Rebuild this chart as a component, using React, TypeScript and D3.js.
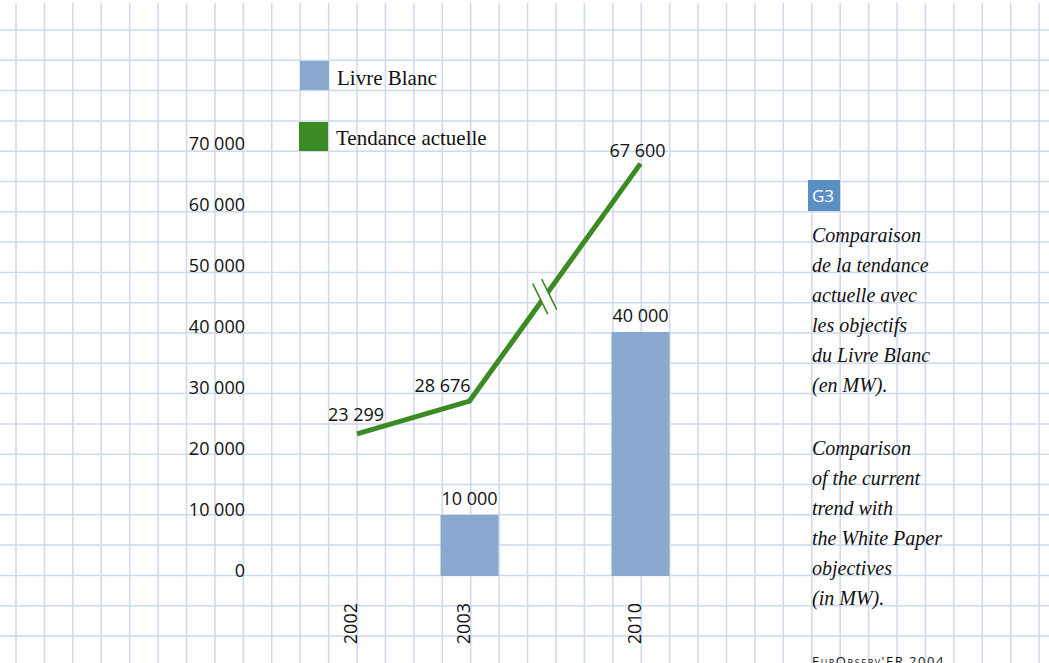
import React from "react";
import * as d3 from "d3";

const W = 1049;
const H = 663;

// data
const years = ["2002", "2003", "2010"];
const yearSlots = [0, 1, 2.52]; // 2010 sits after the axis break
const livreBlanc = [null, 10000, 40000];
const tendance = [23299, 28676, 67600];
const yTicks = [0, 10000, 20000, 30000, 40000, 50000, 60000, 70000];
const captionFr = ["Comparaison", "de la tendance", "actuelle avec", "les objectifs", "du Livre Blanc", "(en MW)."];
const captionEn = ["Comparison", "of the current", "trend with", "the White Paper", "objectives", "(in MW)."];

const BLUE = "#8aa9cf";
const GREEN = "#3b8a22";
const GRID = "#cdd9ec";
const SANS = "'Open Sans', sans-serif";
const SERIF = "'Liberation Serif', serif";

const fmt = (v: number) => d3.format(",")(v).replace(/,/g, " ");

// label nudges for the trend values [dx, dy]
const trendLabelOff = [[-1, -13], [-27, -9], [-3, -7]];

export default function App() {
  const x = d3.scaleLinear().domain([0, 1]).range([357, 469.5]);
  const y = d3.scaleLinear().domain([0, 40000]).range([576, 332]);
  const barW = 58;

  const xs = years.map((_, i) => x(yearSlots[i]));
  const pts: [number, number][] = tendance.map((v, i) => [xs[i], y(v)]);
  const line = d3.line();

  // grid
  const vLines = d3.range(16, W, 28.42);
  const hLines = d3.range(30, H, 30.3);

  // axis break on the 2003-2010 segment
  const [p1, p2] = [pts[1], pts[2]];
  const t = 0.44;
  const bx = p1[0] + (p2[0] - p1[0]) * t;
  const by = p1[1] + (p2[1] - p1[1]) * t;
  const ang = Math.atan2(p2[1] - p1[1], p2[0] - p1[0]);
  const ux = Math.cos(ang);
  const uy = Math.sin(ang);
  const nx = -uy;
  const ny = ux;
  const gap = 5;
  const half = 17;
  const tilt = 28;

  return (
    <svg width={W} height={H} style={{ position: "absolute", left: 0, top: 0, background: "#fff" }}>
      <g stroke={GRID} strokeWidth={1.5}>
        {vLines.map((vx, i) => (
          <line key={"v" + i} x1={vx} x2={vx} y1={3} y2={H} />
        ))}
        {hLines.map((hy, i) => (
          <line key={"h" + i} x1={0} x2={W} y1={hy} y2={hy} />
        ))}
      </g>

      {/* legend */}
      <rect x={300} y={61} width={29} height={29} fill={BLUE} />
      <text x={337} y={85} fontFamily={SERIF} fontSize={21} fill="#111">Livre Blanc</text>
      <rect x={299} y={122} width={29} height={29} fill={GREEN} />
      <text x={336} y={145} fontFamily={SERIF} fontSize={21} fill="#111">Tendance actuelle</text>

      {/* y ticks */}
      {yTicks.map((v) => (
        <text key={v} x={245} y={y(v) + 1} textAnchor="end" fontFamily={SANS} fontSize={18} fill="#111">
          {fmt(v)}
        </text>
      ))}

      {/* bars */}
      {livreBlanc.map((v, i) =>
        v == null ? null : (
          <g key={"b" + i}>
            <rect x={xs[i] - barW / 2} y={y(v)} width={barW} height={y(0) - y(v)} fill={BLUE} />
            <text x={xs[i]} y={y(v) - 10} textAnchor="middle" fontFamily={SANS} fontSize={18} fill="#111">
              {fmt(v)}
            </text>
          </g>
        )
      )}

      {/* trend line */}
      <path d={line(pts) || ""} fill="none" stroke={GREEN} strokeWidth={5} />
      <polygon
        points={[
          [bx - ux * gap + nx * half, by - uy * gap + ny * half],
          [bx + ux * gap + nx * half, by + uy * gap + ny * half],
          [bx + ux * gap - nx * half, by + uy * gap - ny * half],
          [bx - ux * gap - nx * half, by - uy * gap - ny * half],
        ]
          .map((p) => p.join(","))
          .join(" ")}
        fill="#fff"
        transform={`rotate(${tilt} ${bx} ${by})`}
      />
      <g stroke={GREEN} strokeWidth={1.6} transform={`rotate(${tilt} ${bx} ${by})`}>
        {[-gap, gap].map((o) => (
          <line
            key={o}
            x1={bx + ux * o + nx * half}
            y1={by + uy * o + ny * half}
            x2={bx + ux * o - nx * half}
            y2={by + uy * o - ny * half}
          />
        ))}
      </g>
      {tendance.map((v, i) => (
        <text
          key={"t" + i}
          x={xs[i] + trendLabelOff[i][0]}
          y={y(v) + trendLabelOff[i][1]}
          textAnchor="middle"
          fontFamily={SANS}
          fontSize={18}
          fill="#111"
        >
          {fmt(v)}
        </text>
      ))}

      {/* x labels */}
      {years.map((yr, i) => (
        <text
          key={yr}
          transform={`translate(${xs[i]},603) rotate(-90)`}
          textAnchor="end"
          fontFamily={SANS}
          fontSize={18}
          fill="#111"
        >
          {yr}
        </text>
      ))}

      {/* caption */}
      <rect x={808} y={180} width={32} height={31} fill="#5b8fc4" />
      <text x={812} y={202} fontFamily={SANS} fontSize={17} fill="#fff">G3</text>
      {captionFr.map((s, i) => (
        <text key={"fr" + i} x={812} y={242 + i * 30} fontFamily={SERIF} fontStyle="italic" fontSize={20} fill="#111">
          {s}
        </text>
      ))}
      {captionEn.map((s, i) => (
        <text key={"en" + i} x={812} y={455 + i * 30} fontFamily={SERIF} fontStyle="italic" fontSize={20} fill="#111">
          {s}
        </text>
      ))}
      <text x={812} y={666} fontFamily={SANS} fontSize={13} letterSpacing={1.5} style={{ fontVariant: "small-caps" }} fill="#111">
        EurObserv'ER 2004
      </text>
    </svg>
  );
}
